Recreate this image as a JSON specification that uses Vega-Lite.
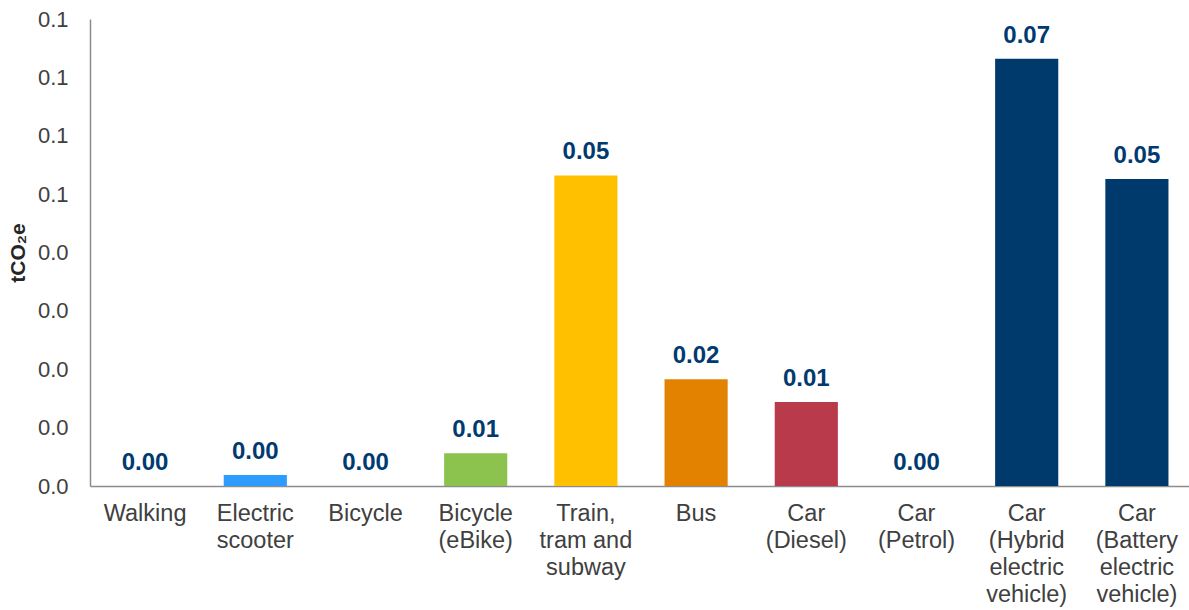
{
  "$schema": "https://vega.github.io/schema/vega-lite/v6.json",
  "autosize": {"type": "none"},
  "padding": {"left": 90, "top": 19, "right": 0, "bottom": 124},
  "width": 1102,
  "height": 467,
  "background": "white",
  "config": {
    "view": {"stroke": null},
    "font": "Liberation Sans"
  },
  "data": {
    "values": [
      {"mode": "Walking", "value": 0.0, "color": "#003A70"},
      {"mode": "Electric|scooter", "value": 0.0019, "color": "#2E9BFF"},
      {"mode": "Bicycle", "value": 0.0, "color": "#003A70"},
      {"mode": "Bicycle|(eBike)", "value": 0.0056, "color": "#8BC34E"},
      {"mode": "Train,|tram and|subway", "value": 0.0532, "color": "#FFC000"},
      {"mode": "Bus", "value": 0.0183, "color": "#E38200"},
      {"mode": "Car|(Diesel)", "value": 0.0144, "color": "#B83A4B"},
      {"mode": "Car|(Petrol)", "value": 0.0, "color": "#003A70"},
      {"mode": "Car|(Hybrid|electric|vehicle)", "value": 0.0732, "color": "#003A6C"},
      {"mode": "Car|(Battery|electric|vehicle)", "value": 0.0526, "color": "#003A6C"}
    ]
  },
  "encoding": {
    "x": {
      "field": "mode",
      "type": "nominal",
      "sort": null,
      "scale": {"paddingInner": 0.427, "paddingOuter": 0.2135},
      "axis": {
        "title": null,
        "labelAngle": 0,
        "labelExpr": "split(datum.label, '|')",
        "labelFontSize": 23.5,
        "labelLineHeight": 27,
        "labelColor": "#404040",
        "labelPadding": 15,
        "labelBaseline": "top",
        "ticks": false,
        "domainColor": "#8C8C8C",
        "domainWidth": 1.5
      }
    },
    "y": {
      "field": "value",
      "type": "quantitative",
      "scale": {"domain": [0, 0.08], "nice": false},
      "axis": {
        "title": "tCO₂e",
        "titleFontSize": 21,
        "titleFontWeight": "bold",
        "titleColor": "#262626",
        "titlePadding": 9,
        "values": [0, 0.01, 0.02, 0.03, 0.04, 0.05, 0.06, 0.07, 0.08],
        "format": ".1f",
        "labelFontSize": 22,
        "labelColor": "#404040",
        "labelPadding": 22,
        "ticks": false,
        "grid": false,
        "domainColor": "#8C8C8C",
        "domainWidth": 1.5
      }
    }
  },
  "layer": [
    {
      "mark": {"type": "bar"},
      "encoding": {
        "color": {"field": "color", "type": "nominal", "scale": null, "legend": null}
      }
    },
    {
      "mark": {"type": "text", "baseline": "alphabetic", "dy": -16, "fontSize": 24, "fontWeight": "bold", "color": "#003A70"},
      "encoding": {
        "text": {"field": "value", "type": "quantitative", "format": ".2f"}
      }
    }
  ]
}
